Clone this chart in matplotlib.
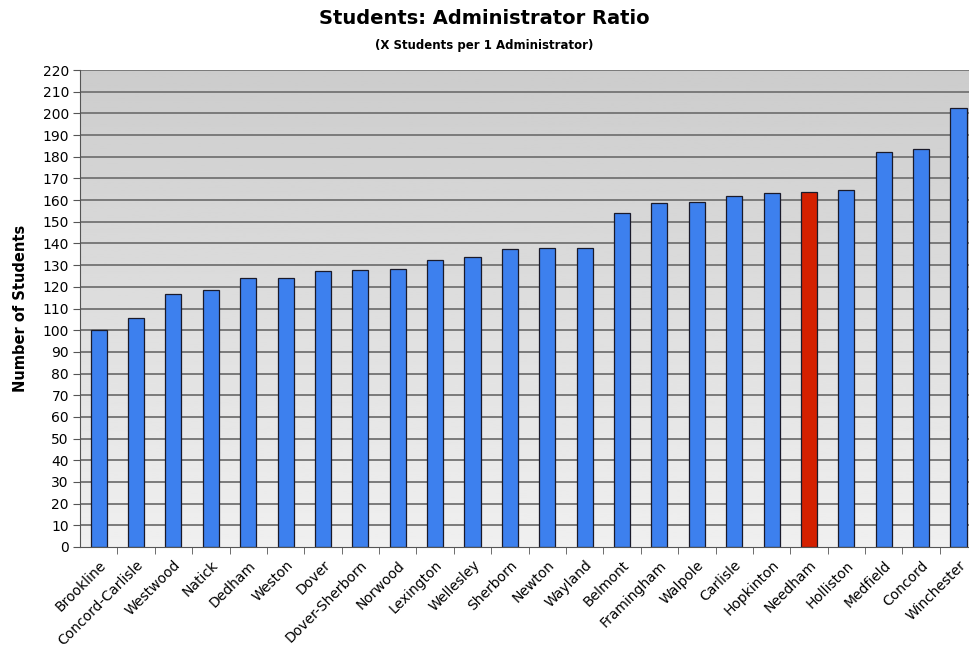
#!/usr/bin/env python3
import matplotlib
matplotlib.use("Agg")
import matplotlib.pyplot as plt
import numpy as np

towns = ["Brookline", "Concord-Carlisle", "Westwood", "Natick", "Dedham", "Weston",
         "Dover", "Dover-Sherborn", "Norwood", "Lexington", "Wellesley", "Sherborn",
         "Newton", "Wayland", "Belmont", "Framingham", "Walpole", "Carlisle",
         "Hopkinton", "Needham", "Holliston", "Medfield", "Concord", "Winchester"]
ratio = [100, 105.4, 116.5, 118.5, 124, 124, 127.5, 127.9, 128.4, 132.4, 133.8, 137.4,
         137.8, 138.1, 154, 158.8, 159.3, 161.7, 163.3, 163.6, 164.8, 182.3, 183.7, 202.4]
highlight = "Needham"

plt.rcParams["font.family"] = ["DejaVu Sans"]

fig = plt.figure(figsize=(9.69, 6.57), dpi=100)
ax = fig.add_axes([80 / 969, 1 - 547 / 657, (969 - 80) / 969, (547 - 70) / 657])

x = np.arange(len(towns))
ax.set_xlim(-0.5, 23.28)
ax.set_ylim(0, 220)

# gradient background: darker at top, lighter at bottom
grad = np.linspace(0.94, 0.80, 256).reshape(-1, 1)
ax.imshow(grad, cmap="gray", vmin=0, vmax=1, aspect="auto",
          extent=[-0.5, 23.28, 0, 220], origin="lower", zorder=0)

for y in range(10, 221, 10):
    ax.axhline(y, color="#7a7a7a", lw=1.4, zorder=1)

colors = ["#d42000" if t == highlight else "#3d80ee" for t in towns]
ax.bar(x, ratio, width=0.43, color=colors, edgecolor="#1a1a2a", linewidth=0.9, zorder=2)

ax.set_yticks(range(0, 221, 10))
ax.tick_params(axis="y", labelsize=10, length=5, color="#555555", pad=3)
ax.set_xticks(x)
ax.set_xticklabels(towns, rotation=45, ha="right", rotation_mode="anchor", fontsize=10)
ax.tick_params(axis="x", length=0, pad=8)
ax.set_xticks(x[:-1] + 0.5, minor=True)
ax.tick_params(axis="x", which="minor", length=5, color="#555555")

for s in ["top", "right"]:
    ax.spines[s].set_visible(False)
ax.spines["left"].set_color("#555555")
ax.spines["bottom"].set_color("#555555")
ax.spines["bottom"].set_zorder(3)

ax.set_ylabel("Number of Students", fontsize=10.5, fontweight="bold", labelpad=10)

fig.text(0.5, 1 - 18 / 657, "Students: Administrator Ratio", ha="center", va="center",
         fontsize=14, fontweight="bold")
fig.text(0.5, 1 - 45 / 657, "(X Students per 1 Administrator)", ha="center", va="center",
         fontsize=8.5, fontweight="bold")

fig.savefig("out.png", dpi=100)
